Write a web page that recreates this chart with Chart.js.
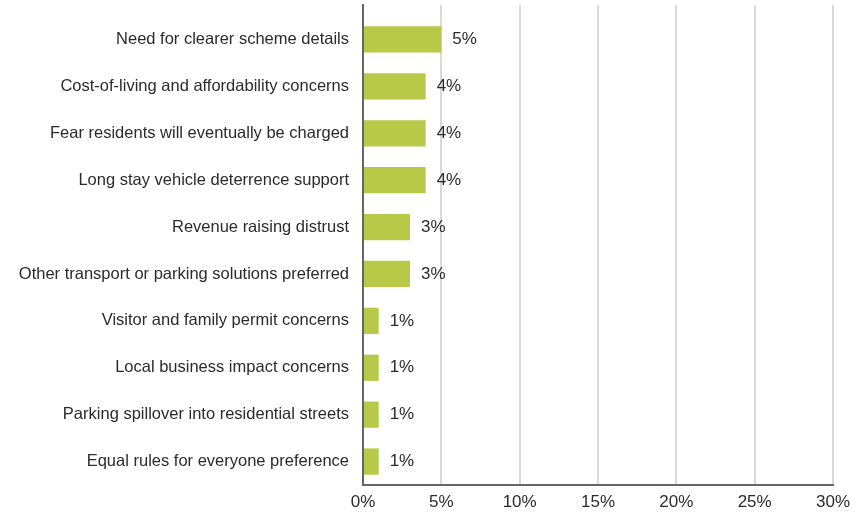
<!DOCTYPE html>
<html>
<head>
<meta charset="utf-8">
<script src="https://cdn.jsdelivr.net/npm/chart.js@4/dist/chart.umd.min.js"></script>
<style>
    html, body { margin: 0; padding: 0; background: #fff; }
    #wrap { width: 860px; height: 515px; }
</style>
</head>
<body>
<div id="wrap"><canvas id="myChart"></canvas></div>
<script>
"use strict"

// CATEGORIES (TOP TO BOTTOM)
const categories = [
    'Need for clearer scheme details',
    'Cost-of-living and affordability concerns',
    'Fear residents will eventually be charged',
    'Long stay vehicle deterrence support',
    'Revenue raising distrust',
    'Other transport or parking solutions preferred',
    'Visitor and family permit concerns',
    'Local business impact concerns',
    'Parking spillover into residential streets',
    'Equal rules for everyone preference'
];

// SHARE OF RESPONSES (%)
const shares = [5, 4, 4, 4, 3, 3, 1, 1, 1, 1];

// X AXIS TICKS
const xTicks = [0, 5, 10, 15, 20, 25, 30];

const fontFamily = "'Liberation Sans', Arial, sans-serif";

// PLUGIN TO WRITE THE VALUE NEXT TO EACH BAR
const valueLabels = {
    id: 'valueLabels',
    afterDatasetsDraw(chart) {
        const ctx = chart.ctx;
        const meta = chart.getDatasetMeta(0);
        ctx.save();
        ctx.font = '17px ' + fontFamily;
        ctx.fillStyle = '#2b2b2b';
        ctx.textAlign = 'left';
        ctx.textBaseline = 'middle';
        meta.data.forEach((bar, i) => {
            ctx.fillText(shares[i] + '%', bar.x + 11, bar.y);
        });
        ctx.restore();
    }
};

// POINTS (y = category index so the axis can start a bit above the first bar)
let points = shares.map((v, i) => ({ x: v, y: i }));

let config = {
    type: 'bar',
    data: {
        datasets: [{
            data: points,
            backgroundColor: '#b7c947',
            borderWidth: 0,
            categoryPercentage: 1,
            barPercentage: 0.56
        }]
    },
    options: {
        indexAxis: 'y',
        responsive: true,
        maintainAspectRatio: false,
        animation: false,
        layout: { padding: { top: 5, right: 27, left: 0, bottom: 0 } },
        plugins: {
            legend: { display: false },
            tooltip: { enabled: false }
        },
        scales: {
            x: {
                type: 'linear',
                min: 0,
                max: 30,
                afterBuildTicks: (axis) => {
                    axis.ticks = xTicks.map(v => ({ value: v }));
                },
                afterFit: (axis) => { axis.height = 30; },
                grid: { color: '#d9d9d9', lineWidth: 2, drawTicks: false },
                border: { color: '#666', width: 2 },
                ticks: {
                    padding: 7,
                    color: '#2b2b2b',
                    font: { family: fontFamily, size: 17 },
                    callback: (v) => v + '%'
                }
            },
            y: {
                type: 'linear',
                reverse: true,
                offset: false,
                min: -0.735,
                max: categories.length - 0.5,
                afterBuildTicks: (axis) => {
                    axis.ticks = categories.map((c, i) => ({ value: i }));
                },
                afterFit: (axis) => {
                    axis.width = 363;
                    axis.paddingTop = 0;
                    axis.paddingBottom = 0;
                },
                grid: { display: false, drawTicks: false, offset: false },
                border: { color: '#666', width: 2 },
                ticks: {
                    padding: 14,
                    color: '#2b2b2b',
                    font: { family: fontFamily, size: 16.5 },
                    callback: (v) => categories[v]
                }
            }
        }
    },
    plugins: [valueLabels]
};

let myChart = new Chart(document.getElementById('myChart'), config);
</script>
</body>
</html>
